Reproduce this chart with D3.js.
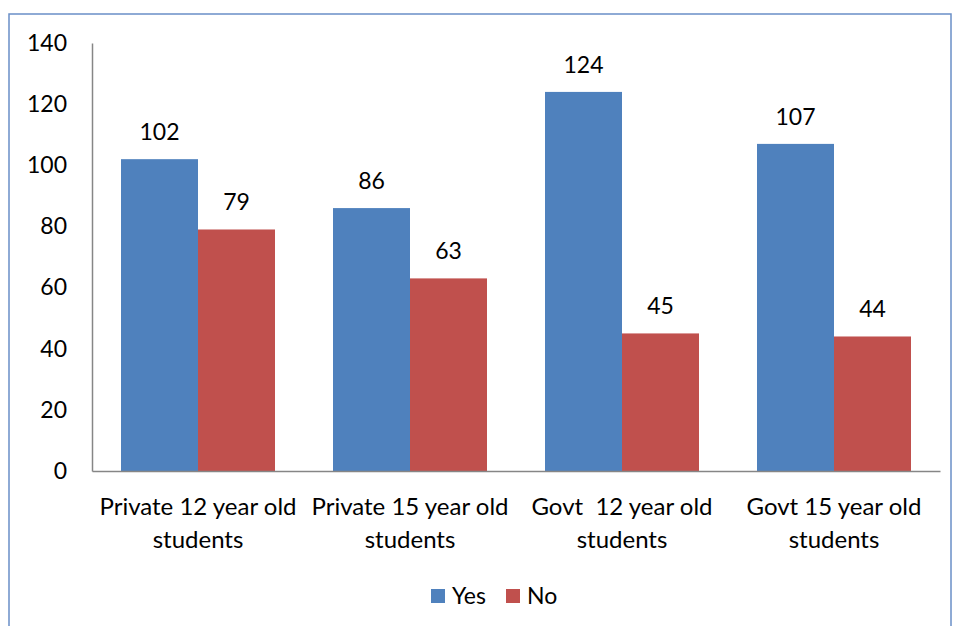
<!DOCTYPE html>
<html>
<head>
<meta charset="utf-8">
<script src="https://cdn.jsdelivr.net/npm/d3@7"></script>
<style>
  html, body { margin: 0; padding: 0; background: #fff; }
  svg { display: block; font-family: Lato, "Open Sans", sans-serif; }
</style>
</head>
<body>
<svg id="chart" width="955" height="626"></svg>
<script>
// Survey counts per student group
const categories = [
  ["Private 12 year old", "students"],
  ["Private 15 year old", "students"],
  ["Govt  12 year old", "students"],
  ["Govt 15 year old", "students"]
];
const seriesNames = ["Yes", "No"];
const yesValues = [102, 86, 124, 107];
const noValues = [79, 63, 45, 44];
const yTicks = [0, 20, 40, 60, 80, 100, 120, 140];
const colors = ["#4f81bd", "#c0504d"];

const FONT = 23;
const svg = d3.select("#chart");

// outer frame
svg.append("rect")
  .attr("x", 9).attr("y", 14).attr("width", 942).attr("height", 640)
  .attr("fill", "none").attr("stroke", "#6a8fc7").attr("stroke-width", 1.5);

const plot = { left: 92, right: 940, top: 43, bottom: 471 };

const x0 = d3.scaleBand()
  .domain(d3.range(categories.length))
  .range([plot.left, plot.right])
  .paddingInner(0.2736).paddingOuter(0.1368);
const x1 = d3.scaleBand()
  .domain(seriesNames)
  .range([0, x0.bandwidth()]);
const y = d3.scaleLinear().domain([0, 140]).range([plot.bottom, plot.top]);

// y-axis labels
const yAxis = d3.axisLeft(y).tickValues(yTicks).tickSize(0).tickPadding(25);
const gy = svg.append("g").attr("transform", `translate(${plot.left},0)`).call(yAxis);
gy.select(".domain").attr("stroke", "#868686").attr("stroke-width", 1.5);
gy.selectAll("text").attr("font-size", FONT).attr("fill", "#000")
  .attr("font-family", "Lato, 'Open Sans', sans-serif");

// bars
const rows = categories.map((c, i) => ({ i, values: [yesValues[i], noValues[i]] }));
const groups = svg.append("g").selectAll("g").data(rows).join("g")
  .attr("transform", d => `translate(${x0(d.i)},0)`);

groups.selectAll("rect").data(d => d.values.map((v, k) => ({ k, v })))
  .join("rect")
  .attr("x", d => x1(seriesNames[d.k]))
  .attr("width", x1.bandwidth())
  .attr("y", d => y(d.v))
  .attr("height", d => y(0) - y(d.v))
  .attr("fill", d => colors[d.k]);

// value labels
groups.selectAll("text.val").data(d => d.values.map((v, k) => ({ k, v })))
  .join("text").attr("class", "val")
  .attr("x", d => x1(seriesNames[d.k]) + x1.bandwidth() / 2)
  .attr("y", d => y(d.v) - 19)
  .attr("text-anchor", "middle")
  .attr("font-size", FONT).attr("fill", "#000")
  .text(d => d.v);

// x-axis line
const xAxis = d3.axisBottom(x0).tickSize(0).tickFormat("");
const gx = svg.append("g").attr("transform", `translate(0,${plot.bottom})`).call(xAxis);
gx.select(".domain").attr("stroke", "#868686").attr("stroke-width", 1.5);

// category labels (two lines)
const catLabels = svg.append("g").selectAll("text").data(categories).join("text")
  .attr("text-anchor", "middle")
  .attr("font-size", 24).attr("fill", "#000")
  .attr("xml:space", "preserve")
  .style("white-space", "pre");
catLabels.each(function (lines, i) {
  const t = d3.select(this);
  lines.forEach((line, j) => {
    t.append("tspan")
      .attr("x", x0(i) + x0.bandwidth() / 2)
      .attr("y", 515 + j * 33)
      .text(line);
  });
});

// legend
const legendItems = [
  { name: "Yes", color: colors[0], x: 431 },
  { name: "No", color: colors[1], x: 506 }
];
const legend = svg.append("g").selectAll("g").data(legendItems).join("g")
  .attr("transform", d => `translate(${d.x},589)`);
legend.append("rect").attr("width", 14).attr("height", 14).attr("fill", d => d.color);
legend.append("text").attr("x", 21).attr("y", 15)
  .attr("font-size", FONT).attr("fill", "#000").text(d => d.name);
</script>
</body>
</html>
